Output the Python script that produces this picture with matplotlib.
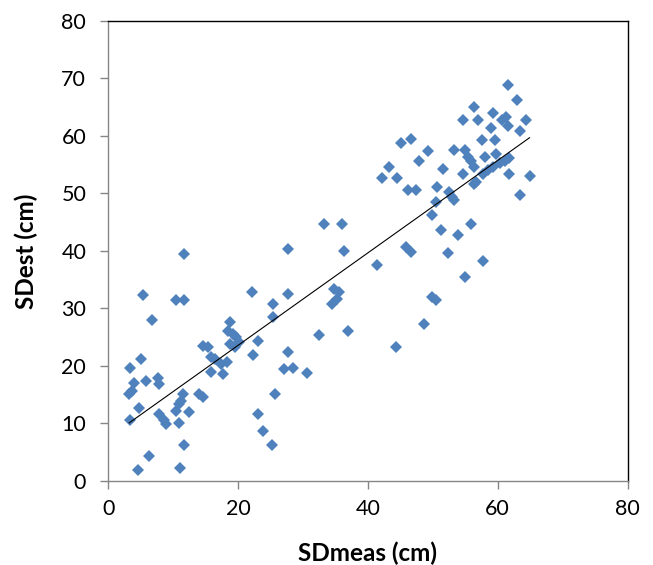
import matplotlib
matplotlib.use("Agg")
import matplotlib.pyplot as plt
import numpy as np

plt.rcParams['font.family'] = ['Lato', 'DejaVu Sans']

sd_meas = [11.7, 5.3, 10.4, 11.7, 6.7, 3.3, 5.0, 4.0, 5.8, 7.6,
           7.8, 3.2, 3.7, 4.7, 3.3, 7.8, 8.9, 8.6, 10.4, 10.9,
           11.5, 11.2, 10.9, 12.4, 11.6, 6.3, 4.5, 11.0, 14.0, 14.6,
           14.6, 15.3, 15.8, 16.4, 15.8, 17.7, 17.4, 18.2, 18.7, 18.4,
           19.2, 19.7, 18.7, 19.5, 20.2, 22.2, 25.4, 25.4, 23.1, 22.3,
           27.7, 27.7, 36.3, 27.7, 27.0, 28.5, 30.6, 25.7, 23.1, 23.9,
           25.2, 34.7, 35.5, 35.2, 34.5, 32.4, 37.0, 33.2, 36.0, 41.4,
           45.8, 46.6, 44.3, 48.7, 49.9, 50.5, 52.3, 54.9, 57.8, 51.3,
           53.8, 55.9, 49.9, 50.5, 50.7, 52.5, 53.0, 53.3, 42.2, 43.2,
           44.5, 46.1, 47.4, 45.1, 46.6, 49.2, 47.9, 51.5, 53.3, 54.9,
           55.4, 54.6, 55.9, 56.4, 56.7, 57.7, 58.5, 59.2, 60.3, 61.1,
           61.8, 59.8, 58.0, 61.8, 63.4, 64.9, 54.6, 56.9, 56.4, 59.3,
           60.6, 61.3, 61.6, 59.0, 57.5, 59.5, 61.6, 62.9, 64.4, 63.4,
           56.4]
sd_est = [39.5, 32.4, 31.5, 31.5, 27.9, 19.7, 21.2, 17.1, 17.3, 17.8,
          16.9, 15.1, 15.7, 12.7, 10.5, 11.6, 9.9, 10.5, 12.2, 13.4,
          15.1, 13.9, 10.0, 11.9, 6.3, 4.3, 1.9, 2.2, 15.1, 14.5,
          23.5, 23.2, 21.5, 21.2, 18.9, 18.6, 20.3, 20.6, 27.6, 26.1,
          25.6, 25.0, 23.8, 23.2, 24.1, 32.9, 30.8, 28.5, 24.4, 21.8,
          32.5, 40.4, 39.9, 22.4, 19.5, 19.7, 18.7, 15.1, 11.7, 8.7,
          6.2, 33.4, 32.8, 31.7, 30.8, 25.3, 26.1, 44.7, 44.7, 37.6,
          40.6, 39.8, 23.2, 27.2, 31.9, 31.4, 39.7, 35.4, 38.3, 43.6,
          42.7, 44.7, 46.2, 48.5, 51.1, 50.2, 49.4, 48.8, 52.6, 54.6,
          52.6, 50.5, 50.5, 58.7, 59.5, 57.3, 55.7, 54.3, 57.5, 57.5,
          56.3, 53.4, 55.7, 54.6, 52.0, 53.4, 54.0, 54.6, 55.2, 55.7,
          56.1, 56.9, 56.3, 53.4, 49.7, 53.0, 62.7, 62.7, 65.0, 63.9,
          62.7, 63.3, 61.8, 61.3, 59.2, 59.2, 68.8, 66.2, 62.8, 60.9,
          51.7]

# linear trendline
trend_slope = 0.804
trend_intercept = 7.5

xticks = [0, 20, 40, 60, 80]
yticks = [0, 10, 20, 30, 40, 50, 60, 70, 80]

fig = plt.figure(figsize=(6.53, 5.65), dpi=100)
ax = fig.add_axes([0.166, 0.149, 0.795, 0.814])

ax.plot(sd_meas, sd_est, linestyle='none', marker='D', markersize=6.4,
        color='#4F81BD', markeredgewidth=0)

tx = np.array([min(sd_meas), max(sd_meas)])
ax.plot(tx, trend_slope * tx + trend_intercept, color='black', linewidth=0.8)

ax.set_xlim(0, 80)
ax.set_ylim(0, 80)
ax.set_xticks(xticks)
ax.set_yticks(yticks)

for side in ['left', 'bottom']:
    ax.spines[side].set_color('#868686')
    ax.spines[side].set_linewidth(1.0)
for side in ['top', 'right']:
    ax.spines[side].set_color('black')
    ax.spines[side].set_linewidth(1.0)

ax.tick_params(axis='both', direction='out', length=6, width=1.0,
               color='#868686', labelsize=15.5, labelcolor='black')
ax.tick_params(axis='x', pad=7)
ax.tick_params(axis='y', pad=10)

ax.set_xlabel('SDmeas (cm)', fontsize=17.5, fontweight='bold', labelpad=16)
ax.set_ylabel('SDest (cm)', fontsize=17.5, fontweight='bold', labelpad=17)

fig.savefig('out.png', dpi=100)
